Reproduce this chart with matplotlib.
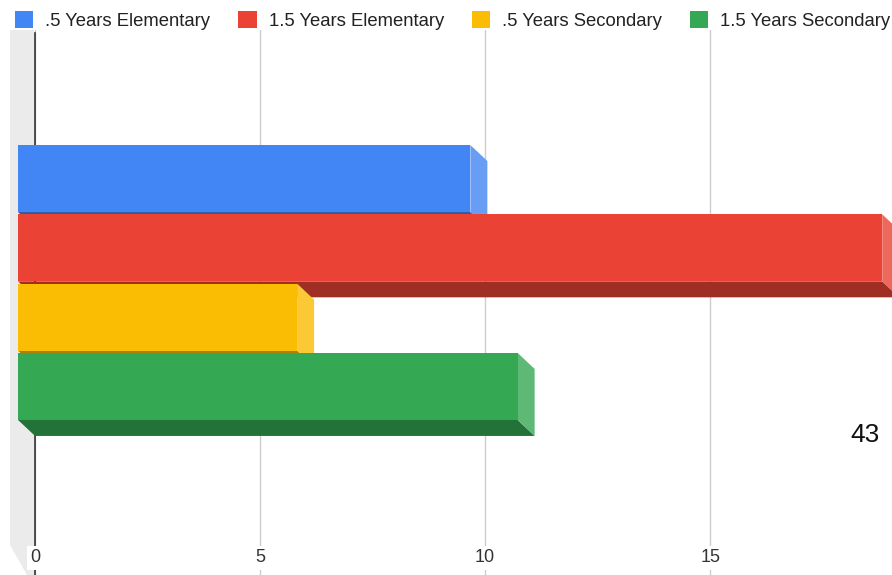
import matplotlib
matplotlib.use("Agg")
import matplotlib.pyplot as plt
from matplotlib.patches import Polygon, Patch
from matplotlib.colors import to_rgb
import matplotlib.transforms as mtransforms
import numpy as np

plt.rcParams['font.family'] = ['Liberation Sans', 'DejaVu Sans']

# ---- data ----
series = [".5 Years Elementary", "1.5 Years Elementary", ".5 Years Secondary", "1.5 Years Secondary"]
values = [10.05, 19.2, 6.2, 11.1]
colors = ["#4285F4", "#EA4335", "#FBBC04", "#34A853"]
xticks = [0, 5, 10, 15]
note = "43"

def shade(c, f):
    r, g, b = to_rgb(c)
    return (r * f, g * f, b * f)

def tint(c, f):
    r, g, b = to_rgb(c)
    return (r + (1 - r) * f, g + (1 - g) * f, b + (1 - b) * f)

W, H = 892, 575
fig = plt.figure(figsize=(W / 100, H / 100), dpi=100)
ax = fig.add_axes([10 / W, 0, 882 / W, 545 / H])
ax.set_xlim(-0.556, 19.04)
ax.set_ylim(5.49, -2.374)
for s in ax.spines.values():
    s.set_visible(False)
ax.set_xticks(xticks)
ax.set_yticks([])
ax.tick_params(axis='x', length=0, labelbottom=False)
ax.grid(axis='x', color='#cccccc', lw=1, zorder=0)
ax.set_axisbelow(True)

# left side wall
wall = Polygon([(0, 1), (0.0272, 1), (0.0272, 0), (0.0193, 0), (0, 0.055)],
               closed=True, transform=ax.transAxes, facecolor='#ebebeb',
               edgecolor='none', zorder=0.5)
ax.add_patch(wall)
ax.axvline(0, ymax=1 - 3 / 545, color='#333333', lw=1.2, zorder=1)

# depth offset (pixels -> data)
depth = 17
inv = ax.transData.inverted()
o = inv.transform((0, 0))
dx = inv.transform((depth, 0))[0] - o[0]
dy_up = inv.transform((0, 16))[1] - o[1]

pos = np.arange(len(values))
h = 0.967
front = ax.barh(pos + dy_up, values, left=-dx, height=h, color=colors, zorder=3)
for i, (v, c, bar) in enumerate(zip(values, colors, front)):
    z = 3 + 3 * i
    top_b, bot_b = pos[i] - h / 2, pos[i] + h / 2
    top_f, bot_f = top_b + dy_up, bot_b + dy_up
    bottom = Polygon([(-dx, bot_f), (v - dx, bot_f), (v, bot_b), (0, bot_b)],
                     closed=True, facecolor=shade(c, 0.68), edgecolor='none', zorder=z)
    side = Polygon([(v - dx, top_f), (v, top_b), (v, bot_b), (v - dx, bot_f)],
                   closed=True, facecolor=tint(c, 0.2), edgecolor='none', zorder=z + 1)
    ax.add_patch(bottom)
    ax.add_patch(side)
    bar.set_zorder(z + 2)

# tick labels inside the plot with white background
blend = mtransforms.blended_transform_factory(ax.transData, ax.transAxes)
for t in xticks:
    ax.text(t, 0.0312, f"{t}", transform=blend, ha='center', va='center',
            fontsize=13, color='#333333', zorder=20,
            bbox=dict(facecolor='white', edgecolor='none', pad=2.5))

fig.text(865 / W, 1 - 435.5 / H, note, fontsize=19, ha='center', va='center', color='#111111')

handles = [Patch(facecolor=c, edgecolor='none', label=s) for s, c in zip(series, colors)]
fig.legend(handles=handles, loc='upper left', bbox_to_anchor=(15 / W, 1 - 11 / H), ncol=4,
           frameon=False, fontsize=13.3, handlelength=1.0, handleheight=1.0,
           handletextpad=0.65, columnspacing=1.5, borderpad=0, borderaxespad=0,
           labelcolor='#222222')

fig.savefig("out.png", dpi=100)
